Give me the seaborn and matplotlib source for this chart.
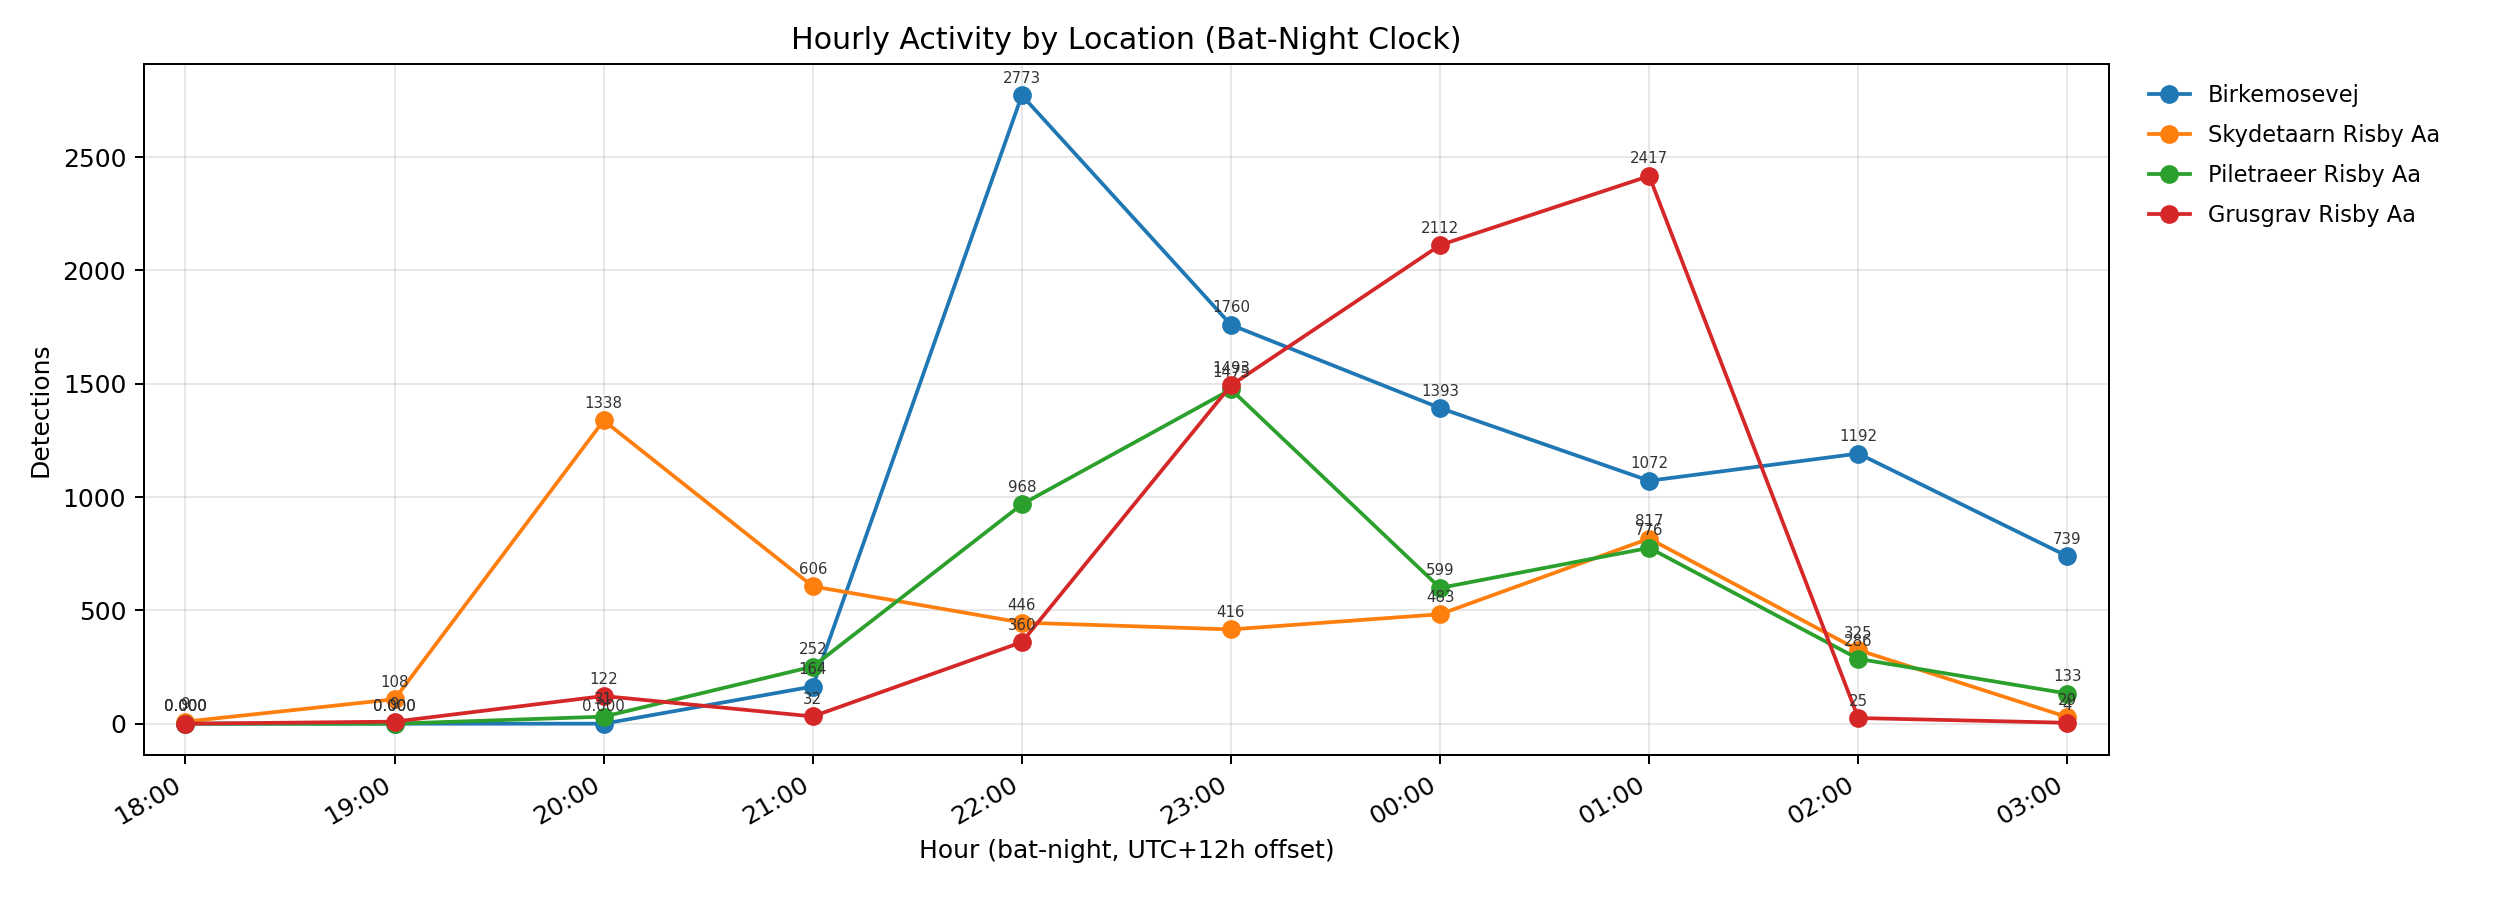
import pandas as pd
import matplotlib
matplotlib.use("Agg")
import matplotlib.pyplot as plt
import seaborn as sns

# -------------------------
# Data
# -------------------------
hours = ["18:00", "19:00", "20:00", "21:00", "22:00",
         "23:00", "00:00", "01:00", "02:00", "03:00"]
locations = ["Birkemosevej", "Skydetaarn Risby Aa",
             "Piletraeer Risby Aa", "Grusgrav Risby Aa"]

birkemosevej = [0, 0, 0, 164, 2773, 1760, 1393, 1072, 1192, 739]
skydetaarn = [9, 108, 1338, 606, 446, 416, 483, 817, 325, 29]
piletraeer = [0, 0, 31, 252, 968, 1475, 599, 776, 286, 133]
grusgrav = [0, 9, 122, 32, 360, 1493, 2112, 2417, 25, 4]

series = [birkemosevej, skydetaarn, piletraeer, grusgrav]
colors = ["#1f77b4", "#ff7f0e", "#2ca02c", "#d62728"]

rows = []
for loc, vals in zip(locations, series):
    for i, v in enumerate(vals):
        rows.append({"pos": i, "hour": hours[i], "location": loc, "detections": v})
df = pd.DataFrame(rows)

# -------------------------
# Plot
# -------------------------
fig, ax = plt.subplots(figsize=(14, 5), dpi=180)

sns.lineplot(data=df, x="pos", y="detections", hue="location",
             hue_order=locations, palette=colors, marker="o",
             markersize=7.5, markeredgewidth=0, linewidth=1.5, ax=ax)

# value labels above every point
for loc, vals in zip(locations, series):
    for i, v in enumerate(vals):
        txt = "0.000" if v == 0 else f"{v}"
        ax.annotate(txt, (i, v), textcoords="offset points", xytext=(0, 5),
                    ha="center", fontsize=6, color="#333333")

ax.set_xticks(range(len(hours)))
ax.set_xticklabels(hours, rotation=30, ha="right")
ax.set_xlim(-0.2, len(hours) - 1 + 0.2)
ax.grid(True, alpha=0.3)
ax.set_title("Hourly Activity by Location (Bat-Night Clock)")
ax.set_xlabel("Hour (bat-night, UTC+12h offset)")
ax.set_ylabel("Detections")
ax.legend(bbox_to_anchor=(1.01, 1.0), loc="upper left", frameon=False,
          fontsize=9, handlelength=1.8, labelspacing=0.75)

fig.subplots_adjust(left=0.057, right=0.837, top=0.929, bottom=0.161)
fig.savefig("out.png", dpi=180)
plt.close(fig)
